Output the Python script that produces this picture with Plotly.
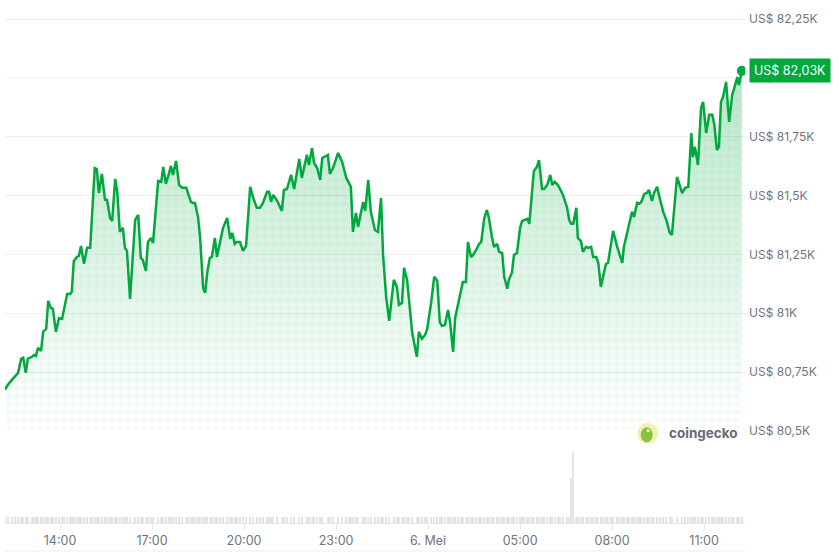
import pandas as pd
import plotly.graph_objects as go

# minutes after 2025-05-05 12:00
minutes = [12, 18, 26, 32, 38, 44, 48, 53, 57, 65, 69, 73, 77, 83, 87, 93, 97, 102, 106, 112,
           118, 124, 128, 134, 140, 143, 147, 153, 157, 161, 167, 173, 179, 183, 188, 192, 196, 202, 208, 212,
           218, 222, 228, 232, 237, 243, 247, 251, 257, 267, 273, 278, 282, 288, 292, 298, 302, 312, 318, 322,
           327, 333, 337, 341, 347, 353, 359, 367, 370, 376, 380, 384, 390, 394, 400, 404, 408, 413, 417, 423,
           427, 433, 439, 447, 453, 457, 462, 466, 472, 478, 484, 492, 498, 505, 511, 517, 525, 529, 533, 537,
           545, 554, 558, 564, 572, 578, 588, 593, 603, 607, 613, 617, 623, 629, 633, 644, 648, 654, 664, 672,
           680, 685, 689, 693, 699, 703, 713, 717, 723, 728, 736, 742, 748, 752, 758, 764, 773, 779, 783, 789,
           793, 799, 803, 809, 818, 822, 828, 834, 838, 846, 852, 858, 863, 867, 873, 879, 883, 889, 893, 899,
           905, 908, 914, 918, 924, 928, 934, 940, 944, 950, 955, 959, 965, 969, 975, 979, 985, 989, 995, 998,
           1004, 1008, 1014, 1020, 1024, 1028, 1034, 1038, 1043, 1047, 1053, 1057, 1063, 1067, 1073, 1079, 1083, 1088, 1094, 1098,
           1104, 1112, 1116, 1120, 1124, 1130, 1133, 1139, 1143, 1149, 1153, 1159, 1163, 1169, 1173, 1178, 1182, 1188, 1192, 1198,
           1202, 1210, 1214, 1220, 1223, 1229, 1233, 1239, 1243, 1249, 1253, 1257, 1263, 1268, 1272, 1278, 1282, 1288, 1294, 1300,
           1306, 1313, 1317, 1327, 1337, 1343, 1349, 1355, 1358, 1362, 1368, 1374, 1378, 1384, 1390, 1396, 1400, 1405, 1409, 1413,
           1417, 1423, 1429, 1435, 1439, 1445, 1448, 1454]

# BTC price in USD
price = [80675, 80696, 80717, 80730, 80747, 80806, 80811, 80747, 80806, 80815, 80823, 80819, 80853, 80840, 80921, 80934, 81053, 81023, 81019, 80921,
         80980, 80976, 81014, 81082, 81082, 81091, 81222, 81239, 81244, 81286, 81210, 81278, 81278, 81452, 81617, 81613, 81511, 81592, 81482, 81482,
         81405, 81392, 81571, 81516, 81346, 81363, 81278, 81265, 81061, 81397, 81418, 81235, 81227, 81180, 81303, 81320, 81299, 81562, 81558, 81622,
         81550, 81592, 81626, 81588, 81647, 81545, 81533, 81533, 81516, 81473, 81469, 81469, 81409, 81324, 81108, 81087, 81172, 81235, 81239, 81320,
         81239, 81303, 81363, 81405, 81316, 81341, 81295, 81303, 81303, 81265, 81286, 81537, 81490, 81448, 81448, 81469, 81516, 81516, 81473, 81503,
         81477, 81435, 81524, 81528, 81588, 81528, 81656, 81575, 81673, 81630, 81702, 81639, 81617, 81567, 81660, 81673, 81592, 81617, 81681, 81643,
         81575, 81554, 81537, 81346, 81426, 81367, 81473, 81435, 81567, 81431, 81354, 81346, 81490, 81248, 81070, 80968, 81142, 81112, 81036, 81044,
         81193, 81142, 81057, 80917, 80815, 80921, 80891, 80908, 80930, 81044, 81155, 81138, 80963, 80946, 80951, 81014, 80963, 80836, 80980, 81044,
         81112, 81133, 81133, 81303, 81239, 81248, 81269, 81295, 81303, 81405, 81439, 81405, 81324, 81282, 81295, 81261, 81256, 81155, 81104, 81142,
         81172, 81248, 81256, 81363, 81392, 81397, 81401, 81380, 81494, 81605, 81622, 81651, 81528, 81528, 81545, 81588, 81545, 81558, 81545, 81528,
         81503, 81448, 81397, 81380, 81380, 81448, 81320, 81307, 81261, 81282, 81278, 81282, 81239, 81239, 81214, 81112, 81155, 81210, 81214, 81286,
         81350, 81282, 81256, 81214, 81282, 81341, 81367, 81431, 81409, 81469, 81465, 81473, 81507, 81511, 81524, 81477, 81511, 81537, 81482, 81431,
         81397, 81341, 81333, 81579, 81511, 81533, 81537, 81766, 81664, 81707, 81630, 81872, 81898, 81766, 81843, 81843, 81800, 81694, 81707, 81898,
         81919, 81983, 81813, 81928, 81957, 82004, 81970, 82030]

# trading volume (relative), flat except the spike around 06:50
volume = [20, 20, 20, 20, 20, 20, 20, 20, 20, 20, 20, 20, 20, 20, 20, 20, 20, 20, 20, 20,
          20, 20, 20, 20, 20, 20, 20, 20, 20, 20, 20, 20, 20, 20, 20, 20, 20, 20, 20, 20,
          20, 20, 20, 20, 20, 20, 20, 20, 20, 20, 20, 20, 20, 20, 20, 20, 20, 20, 20, 20,
          20, 20, 20, 20, 20, 20, 20, 20, 20, 20, 20, 20, 20, 20, 20, 20, 20, 20, 20, 20,
          20, 20, 20, 20, 20, 20, 20, 20, 20, 20, 20, 20, 20, 20, 20, 20, 20, 20, 20, 20,
          20, 20, 20, 20, 20, 20, 20, 20, 20, 20, 20, 20, 20, 20, 20, 20, 20, 20, 20, 20,
          20, 20, 20, 20, 20, 20, 20, 20, 20, 20, 20, 20, 20, 20, 20, 20, 20, 20, 20, 20,
          20, 20, 20, 20, 20, 20, 20, 20, 20, 20, 20, 20, 20, 20, 20, 20, 20, 20, 20, 20,
          20, 20, 20, 20, 20, 20, 20, 20, 20, 20, 20, 20, 20, 20, 20, 20, 20, 20, 20, 20,
          20, 20, 20, 20, 20, 20, 20, 20, 20, 20, 20, 20, 20, 20, 20, 20, 20, 20, 20, 20,
          20, 20, 20, 160, 250, 20, 20, 20, 20, 20, 20, 20, 20, 20, 20, 20, 20, 20, 20, 20,
          20, 20, 20, 20, 20, 20, 20, 20, 20, 20, 20, 20, 20, 20, 20, 20, 20, 20, 20, 20,
          20, 20, 20, 20, 20, 20, 20, 20, 20, 20, 20, 20, 20, 20, 20, 20, 20, 20, 20, 20,
          20, 20, 20, 20, 20, 20, 20, 20]

y_ticks = [80500, 80750, 81000, 81250, 81500, 81750, 82000, 82250]
y_labels = ['US$ 80,5K', 'US$ 80,75K', 'US$ 81K', 'US$ 81,25K', 'US$ 81,5K',
            'US$ 81,75K', 'US$ 82K', 'US$ 82,25K']
x_ticks = ['2025-05-05 14:00', '2025-05-05 17:00', '2025-05-05 20:00', '2025-05-05 23:00',
           '2025-05-06 02:00', '2025-05-06 05:00', '2025-05-06 08:00', '2025-05-06 11:00']
x_labels = ['14:00', '17:00', '20:00', '23:00', '6. Mei', '05:00', '08:00', '11:00']
last_label = 'US$ 82,03K'

start = pd.Timestamp('2025-05-05 12:00')
times = start + pd.to_timedelta(minutes, unit='min')

green = '#00a83e'
grey_txt = '#6f7580'

fig = go.Figure()

# gradient area under the line
fig.add_trace(go.Scatter(x=times, y=price, mode='lines', line=dict(width=0),
                         fill='tozeroy',
                         fillgradient=dict(type='vertical', start=80500, stop=max(price),
                                           colorscale=[[0, 'rgba(0,168,62,0.0)'],
                                                       [1, 'rgba(0,168,62,0.28)']]),
                         hoverinfo='skip', showlegend=False))
# dotted texture
fig.add_trace(go.Scatter(x=times, y=price, mode='lines', line=dict(width=0),
                         fill='tozeroy', fillcolor='rgba(0,0,0,0)',
                         fillpattern=dict(shape='.', size=8, solidity=0.25,
                                          fgcolor='rgba(0,140,60,0.07)',
                                          bgcolor='rgba(0,0,0,0)'),
                         hoverinfo='skip', showlegend=False))
fig.add_trace(go.Scatter(x=times, y=price, mode='lines',
                         line=dict(color=green, width=2.5), showlegend=False))
fig.add_trace(go.Scatter(x=[times[-1]], y=[price[-1]], mode='markers',
                         marker=dict(color=green, size=10), showlegend=False))

fig.add_trace(go.Bar(x=times, y=volume, yaxis='y2', marker_color='#e4e4e4',
                     marker_line_width=0, width=100000, showlegend=False))

fig.update_layout(
    width=839, height=552,
    margin=dict(l=5, r=94, t=0, b=29),
    paper_bgcolor='white', plot_bgcolor='white',
    font=dict(family='Inter', size=12, color=grey_txt),
    bargap=0,
    hovermode=False,
    xaxis=dict(type='date', anchor='y2',
               range=[start + pd.Timedelta(minutes=12.4), start + pd.Timedelta(minutes=1460)],
               tickmode='array', tickvals=x_ticks, ticktext=x_labels,
               showgrid=False, showline=True, linecolor='#e6e6e6',
               ticks='outside', ticklen=6, tickcolor='#e6e6e6',
               tickfont=dict(size=12.5, color=grey_txt)),
    yaxis=dict(domain=[0.176, 1], range=[80500, 82331], side='right',
               tickmode='array', tickvals=y_ticks, ticktext=y_labels,
               showgrid=True, gridcolor='#efefef', zeroline=False,
               ticklabelstandoff=3,
               tickfont=dict(size=12, color=grey_txt)),
    yaxis2=dict(domain=[0, 0.149], range=[0, 275], visible=False),
    shapes=[
        dict(type='line', xref='paper', yref='paper', x0=0, x1=1,
             y0=-0.0535, y1=-0.0535, line=dict(color='#eeeeee', width=1)),
        # coingecko logo
        dict(type='circle', xref='paper', yref='paper', xsizemode='pixel', ysizemode='pixel',
             xanchor=0.8685, yanchor=0.1715, x0=-10.5, x1=10.5, y0=-10.5, y1=10.5,
             fillcolor='#f7eeb2', line=dict(width=0)),
        dict(type='circle', xref='paper', yref='paper', xsizemode='pixel', ysizemode='pixel',
             xanchor=0.8685, yanchor=0.1715, x0=-7, x1=5, y0=-9, y1=6,
             fillcolor='#86c440', line=dict(width=0)),
        dict(type='circle', xref='paper', yref='paper', xsizemode='pixel', ysizemode='pixel',
             xanchor=0.8685, yanchor=0.1715, x0=-1, x1=2, y0=1, y1=4,
             fillcolor='#ffffff', line=dict(width=0)),
    ],
    annotations=[
        dict(x=1, xref='paper', xanchor='left', xshift=4, y=price[-1], yref='y',
             yanchor='middle', text=last_label, showarrow=False,
             font=dict(color='white', size=12.5), bgcolor=green, borderpad=4),
        dict(x=0.894, xref='paper', xanchor='left', y=0.1715, yref='paper',
             yanchor='middle', text='<b>coingecko</b>', showarrow=False,
             font=dict(color='#666a77', size=13.5)),
    ],
)

# the page's default body margin would push the chart 8px right and down
fig.write_html('out.html', config={'displayModeBar': False},
               post_script="document.body.style.margin='0';")
